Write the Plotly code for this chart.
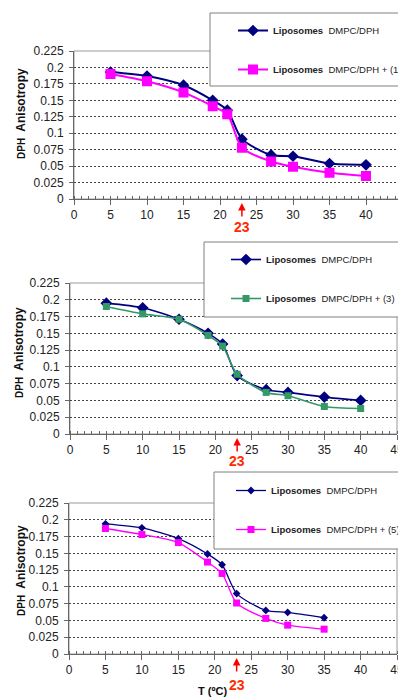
import plotly.graph_objects as go

# page is 406x697; the html body adds an 8px margin, so the figure is sized to fit
OFF = 8
W, H = 406 - OFF, 697 - OFF

# ---------------- data ----------------
temps_a = [5, 10, 15, 19, 21, 23, 27, 30, 35, 40]
temps_c = [5, 10, 15, 19, 21, 23, 27, 30, 35]

p1_ref = [0.193, 0.187, 0.173, 0.150, 0.135, 0.091, 0.067, 0.065, 0.054, 0.052]
p1_cmp = [0.190, 0.179, 0.162, 0.141, 0.129, 0.078, 0.057, 0.049, 0.040, 0.035]

p2_ref = [0.195, 0.188, 0.171, 0.150, 0.134, 0.087, 0.066, 0.062, 0.055, 0.050]
p2_cmp = [0.190, 0.179, 0.171, 0.147, 0.131, 0.089, 0.062, 0.057, 0.041, 0.038]

p3_ref = [0.194, 0.188, 0.172, 0.149, 0.133, 0.090, 0.065, 0.062, 0.054]
p3_cmp = [0.187, 0.178, 0.166, 0.137, 0.120, 0.076, 0.053, 0.043, 0.037]

ref_name = "<b>Liposomes</b>&nbsp; DMPC/DPH"
cmp_names = ["<b>Liposomes</b>&nbsp; DMPC/DPH + (1)",
             "<b>Liposomes</b>&nbsp; DMPC/DPH + (3)",
             "<b>Liposomes</b>&nbsp; DMPC/DPH + (5)"]

y_tickvals = [0, 0.025, 0.05, 0.075, 0.1, 0.125, 0.15, 0.175, 0.2, 0.225]
y_ticktext = ["0", "0.025", "0.05", "0.075", "0.1", "0.125", "0.15", "0.175", "0.2", "0.225"]
x_tickvals = [0, 5, 10, 15, 20, 25, 30, 35, 40, 45]
transition_T = 23

NAVY = "#000080"
MAGENTA = "#ff00ff"
GREEN = "#339966"
RED = "#ff2a00"

# page-pixel -> paper helpers
def px(x):
    return (x - OFF) / W

def py(y):
    return 1 - (y - OFF) / H

panels = [
    dict(x=(74, 402.5), y=(51, 199), box=(210, 13, 86), leg=(233, 16), ytitle=(21, 114), lab23=227),
    dict(x=(70, 397), y=(283, 434), box=(204, 242, 317), leg=(226, 245), ytitle=(19, 353), lab23=461),
    dict(x=(69, 397), y=(503, 654), box=(214, 472, 549), leg=(231, 476), ytitle=(21, 571), lab23=685),
]

series = [
    (temps_a, p1_ref, temps_a, p1_cmp, MAGENTA, 9, 10, 2),
    (temps_a, p2_ref, temps_a, p2_cmp, GREEN, 9, 7, 1.6),
    (temps_c, p3_ref, temps_c, p3_cmp, MAGENTA, 6, 7, 1.3),
]

FONT = "Liberation Sans, Arial"

fig = go.Figure()
shapes = []
annotations = []
layout = {}

for i, (pn, sr) in enumerate(zip(panels, series)):
    k = "" if i == 0 else str(i + 1)
    xa, ya = "x" + k, "y" + k
    leg = "legend" + k
    xr, yr, xc, yc, ccol, dsize, ssize, lw = sr
    fig.add_trace(go.Scatter(
        x=xr, y=yr, name=ref_name, mode="lines+markers",
        line=dict(color=NAVY, width=lw, shape="spline", smoothing=0.7),
        marker=dict(symbol="diamond", size=dsize, color=NAVY),
        xaxis=xa, yaxis=ya, legend=leg, legendgroup="a" + k))
    fig.add_trace(go.Scatter(
        x=xc, y=yc, name=cmp_names[i], mode="lines+markers",
        line=dict(color=ccol, width=lw, shape="spline", smoothing=0.7),
        marker=dict(symbol="square", size=ssize, color=ccol),
        xaxis=xa, yaxis=ya, legend=leg, legendgroup="b" + k))

    layout["xaxis" + k] = dict(
        domain=[px(pn["x"][0]), min(px(pn["x"][1]), 1)], anchor=ya,
        range=[0, 45], tickvals=x_tickvals, showgrid=False, zeroline=False,
        showline=True, linecolor="#666666", linewidth=1,
        ticks="outside", ticklen=5, tickcolor="#666666",
        minor=dict(ticks="inside", dtick=1, tick0=0, ticklen=3, tickcolor="#666666", showgrid=False),
        tickfont=dict(family=FONT, size=12, color="#222222"))
    layout["yaxis" + k] = dict(
        domain=[py(pn["y"][1]), py(pn["y"][0])], anchor=xa,
        range=[0, 0.225], tickvals=y_tickvals, ticktext=y_ticktext,
        showgrid=True, gridcolor="#444444", gridwidth=1, griddash="2px,2px",
        zeroline=False, showline=True, linecolor="#666666", linewidth=1,
        ticks="outside", ticklen=4, tickcolor="#666666", ticklabelstandoff=3,
        tickfont=dict(family=FONT, size=12, color="#222222"))

    shapes.append(dict(type="rect", xref=xa + " domain", yref=ya + " domain",
                       x0=0, x1=1, y0=0, y1=1, line=dict(color="#999999", width=1),
                       layer="below"))
    bx0, bt, bb = pn["box"]
    shapes.append(dict(type="rect", xref="paper", yref="paper",
                       x0=px(bx0), x1=1.02, y0=py(bb), y1=py(bt),
                       line=dict(color="#808080", width=1), fillcolor="white", layer="above"))
    lx, ly = pn["leg"]
    layout[leg] = dict(x=px(lx), y=py(ly), xanchor="left", yanchor="top",
                       bgcolor="rgba(0,0,0,0)", borderwidth=0,
                       traceorder="grouped", tracegroupgap=20,
                       font=dict(family=FONT, size=9.5, color="#222222"))

    tx, ty = pn["ytitle"]
    annotations.append(dict(xref="paper", yref="paper", x=px(tx), y=py(ty),
                            xanchor="center", yanchor="middle",
                            text="<b><span style='font-size:10px'>DPH</span>&nbsp; Anisotropy</b>",
                            textangle=-90, showarrow=False,
                            font=dict(family=FONT, size=12, color="#111111")))
    annotations.append(dict(xref=xa, yref="paper", x=transition_T, y=py(pn["y"][1] + 4),
                            ax=0, ay=15, text="", showarrow=True, arrowhead=2, arrowsize=1,
                            arrowwidth=1.5, arrowcolor="#ff0000"))
    annotations.append(dict(xref=xa, yref="paper", x=transition_T, y=py(pn["lab23"]),
                            text="<b>23</b>", showarrow=False, xanchor="center", yanchor="middle",
                            font=dict(family=FONT, size=14, color=RED)))

annotations.append(dict(xref="paper", yref="paper", x=px(213), y=py(691),
                        text="<b>T (ºC)</b>", showarrow=False, xanchor="center", yanchor="middle",
                        font=dict(family=FONT, size=11, color="#111111")))

fig.update_layout(
    width=W, height=H, margin=dict(l=0, r=0, t=0, b=0, autoexpand=False),
    paper_bgcolor="white", plot_bgcolor="white",
    showlegend=True, shapes=shapes, annotations=annotations, **layout)

fig.write_html("out.html")
